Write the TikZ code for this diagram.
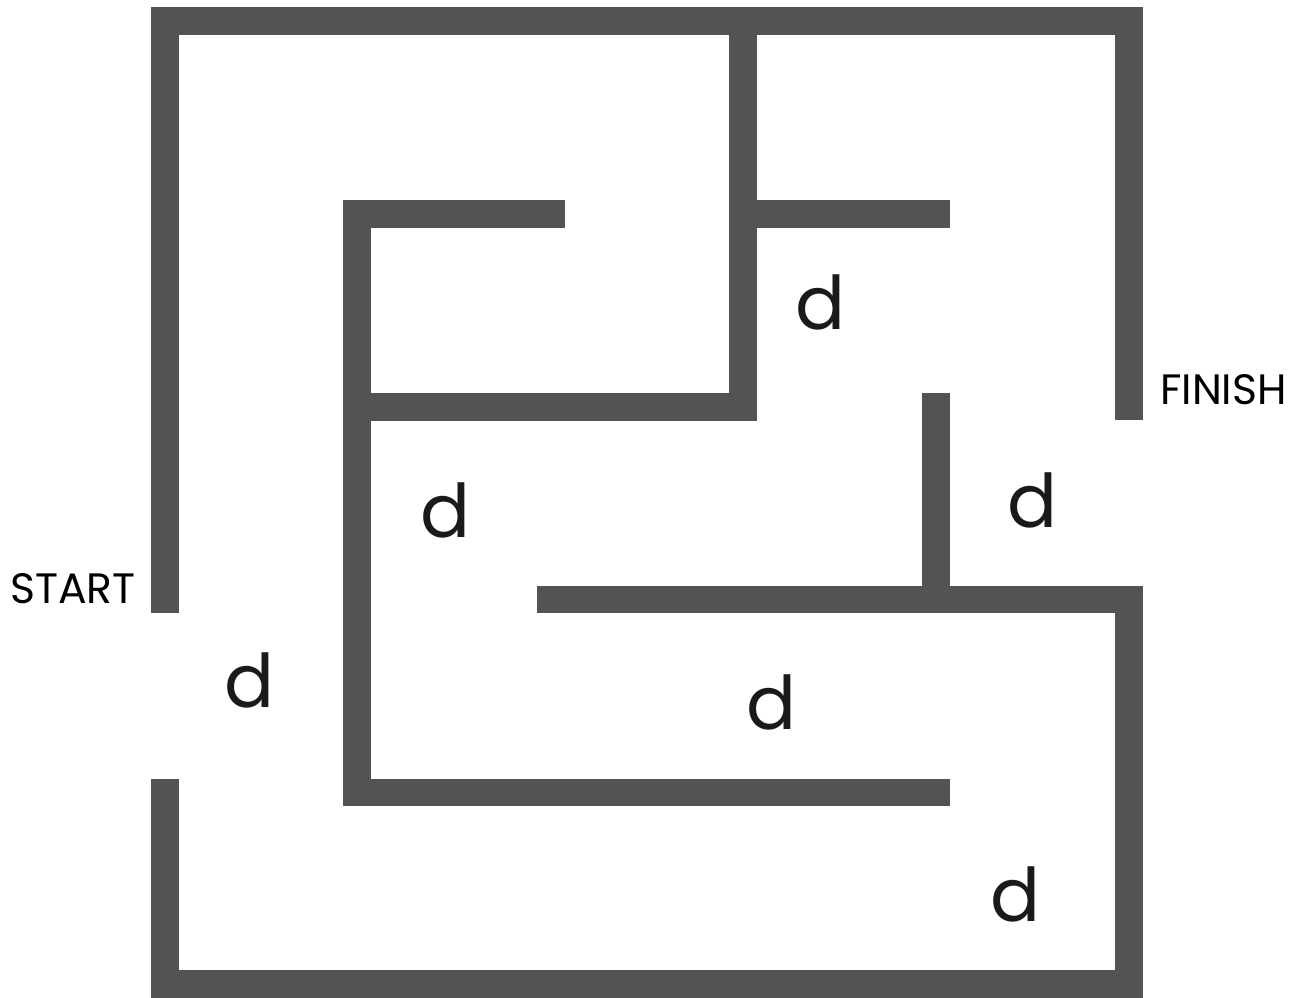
\documentclass[tikz,border=0pt]{standalone}
\usepackage{fontspec}
\setmainfont{Poppins}
\definecolor{wall}{HTML}{535353}
\definecolor{ink}{HTML}{1A1A1A}
\begin{document}
\begin{tikzpicture}[x=1pt,y=-1pt,
  wallbox/.style={fill=wall,draw=none},
  letter/.style={inner sep=0pt,text=ink,font=\fontsize{74}{74}\selectfont},
  label/.style={inner sep=0pt,anchor=west,text=black,font=\fontsize{42.5}{42.5}\selectfont}]
\useasboundingbox (0,0) rectangle (1301,998);
% outer walls
\fill[wallbox] (151,7) rectangle (1143,35);
\fill[wallbox] (151,7) rectangle (179,613);
\fill[wallbox] (151,779) rectangle (179,998);
\fill[wallbox] (151,970) rectangle (1143,998);
\fill[wallbox] (1115,7) rectangle (1143,420);
\fill[wallbox] (1115,586) rectangle (1143,998);
% inner walls
\fill[wallbox] (729,7) rectangle (757,421);
\fill[wallbox] (757,200) rectangle (950,228);
\fill[wallbox] (343,200) rectangle (565,228);
\fill[wallbox] (343,200) rectangle (371,806);
\fill[wallbox] (343,393) rectangle (757,421);
\fill[wallbox] (343,779) rectangle (950,806);
\fill[wallbox] (537,586) rectangle (1143,613);
\fill[wallbox] (922,393) rectangle (950,613);
% letters
\node[letter] (d1) at (821,302) {d};
\node[letter] (d2) at (446,510) {d};
\node[letter] (d3) at (1032,500) {d};
\node[letter] (d4) at (250,680) {d};
\node[letter] (d5) at (772,702) {d};
\node[letter] (d6) at (1016,894) {d};
\node[label] (start) at (10,589) {START};
\node[label] (finish) at (1160,390) {FINISH};
\end{tikzpicture}
\end{document}
